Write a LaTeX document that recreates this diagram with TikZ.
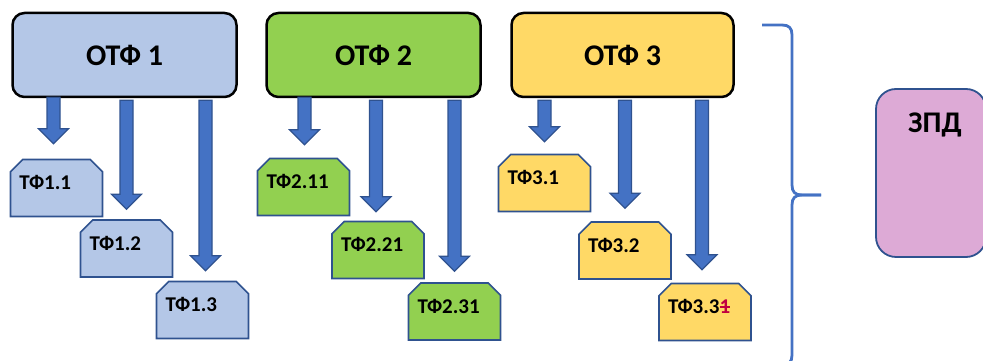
\documentclass[tikz,border=0pt]{standalone}
\usepackage{fontspec}
\setmainfont{Carlito}[BoldFont={Carlito Bold}]
\usetikzlibrary{calc, shapes.misc}

\definecolor{otfblue}{HTML}{B4C7E7}
\definecolor{otfgreen}{HTML}{92D050}
\definecolor{otfyellow}{HTML}{FFD966}
\definecolor{zpdpink}{HTML}{DDAAD6}
\definecolor{arrfill}{HTML}{4472C4}
\definecolor{arrline}{HTML}{2F528F}
\definecolor{struck}{HTML}{C00040}

\tikzset{
  otfbox/.style={draw=black, line width=2.5pt, rounded corners=12pt, minimum height=84pt,
    font=\bfseries\fontsize{30}{34}\selectfont},
  tfbox/.style={chamfered rectangle, chamfered rectangle corners={north west, north east},
    chamfered rectangle xsep=9pt, draw=arrline, line width=1.6pt,
    minimum width=90pt, minimum height=57pt, text width=74pt, align=left,
    text height=14pt, text depth=10pt, inner sep=0pt,
    font=\bfseries\fontsize{21}{24}\selectfont},
  zpdbox/.style={draw=arrline, line width=1.8pt, fill=zpdpink, rounded corners=20pt,
    minimum width=110pt, minimum height=168pt},
  flow/.style={fill=arrfill, draw=arrline, line width=1.2pt},
  brace/.style={draw=arrfill, line width=2.8pt}
}

% block arrow from #1 down to tip #2
\newcommand\flowarrow[2]{%
  \filldraw[flow] let \p1=(#1), \p2=(#2) in
    (\x1-6.5pt,\y1) -- (\x1-6.5pt,\y2+15pt) -- (\x1-15pt,\y2+15pt) -- (\x1,\y2)
    -- (\x1+15pt,\y2+15pt) -- (\x1+6.5pt,\y2+15pt) -- (\x1+6.5pt,\y1) -- cycle;}
\newcommand\struckone{\textcolor{struck}{\rlap{\rule[0.3em]{0.5em}{1.3pt}}1}}

\begin{document}
\begin{tikzpicture}[x=1pt, y=1pt]
\clip (0,0) rectangle (983,361);

% main boxes
\node[otfbox, fill=otfblue, minimum width=224pt] (O1) at (124.5,306) {ОТФ 1};
\node[otfbox, fill=otfgreen, minimum width=214pt] (O2) at (373.5,306) {ОТФ 2};
\node[otfbox, fill=otfyellow, minimum width=222pt] (O3) at (622.5,306) {ОТФ 3};

% sub boxes
\node[tfbox, fill=otfblue] (T11) at (56.5,173) {ТФ1.1};
\node[tfbox, fill=otfblue] (T12) at (126.5,112.5) {ТФ1.2};
\node[tfbox, fill=otfblue] (T13) at (202.5,51) {ТФ1.3};
\node[tfbox, fill=otfgreen] (T21) at (303.5,174) {ТФ2.11};
\node[tfbox, fill=otfgreen] (T22) at (378,111) {ТФ2.21};
\node[tfbox, fill=otfgreen] (T23) at (454.5,49.5) {ТФ2.31};
\node[tfbox, fill=otfyellow] (T31) at (544.5,178) {ТФ3.1};
\node[tfbox, fill=otfyellow] (T32) at (625,110.5) {ТФ3.2};
\node[tfbox, fill=otfyellow] (T33) at (705,49) {ТФ3.3\struckone};

% arrows
\flowarrow{$(T11.north |- O1.south)+(-3,1)$}{$(T11.north)+(-3,15)$}
\flowarrow{$(T12.north |- O1.south)+(0,-2)$}{$(T12.north)+(0,10)$}
\flowarrow{$(T13.north |- O1.south)+(3,-2)$}{$(T13.north)+(3,10)$}
\flowarrow{$(T21.north |- O2.south)+(1,1)$}{$(T21.north)+(1,13)$}
\flowarrow{$(T22.north |- O2.south)+(-2,-2)$}{$(T22.north)+(-2,9)$}
\flowarrow{$(T23.north |- O2.south)+(0,-2)$}{$(T23.north)+(0,11)$}
\flowarrow{$(T31.north |- O3.south)+(0,-2)$}{$(T31.north)+(0,12)$}
\flowarrow{$(T32.north |- O3.south)+(0,-2)$}{$(T32.north)+(0,13)$}
\flowarrow{$(T33.north |- O3.south)+(-3,-2)$}{$(T33.north)+(-3,13)$}

% brace
\draw[brace] (762,336) -- (782,336) .. controls (789,336) and (792,333) .. (792,326)
  -- (792,176) .. controls (792,169) and (795,166) .. (802,166) -- (821,166);
\draw[brace] (821,166) -- (802,166) .. controls (795,166) and (792,163) .. (792,156)
  -- (792,6) .. controls (792,-1) and (789,-4) .. (782,-4) -- (762,-4);

% result box
\node[zpdbox, label={[anchor=north, yshift=-21pt, xshift=4pt, font=\bfseries\fontsize{30}{34}\selectfont]north:ЗПД}] (Z) at (931,188) {};
\end{tikzpicture}
\end{document}
